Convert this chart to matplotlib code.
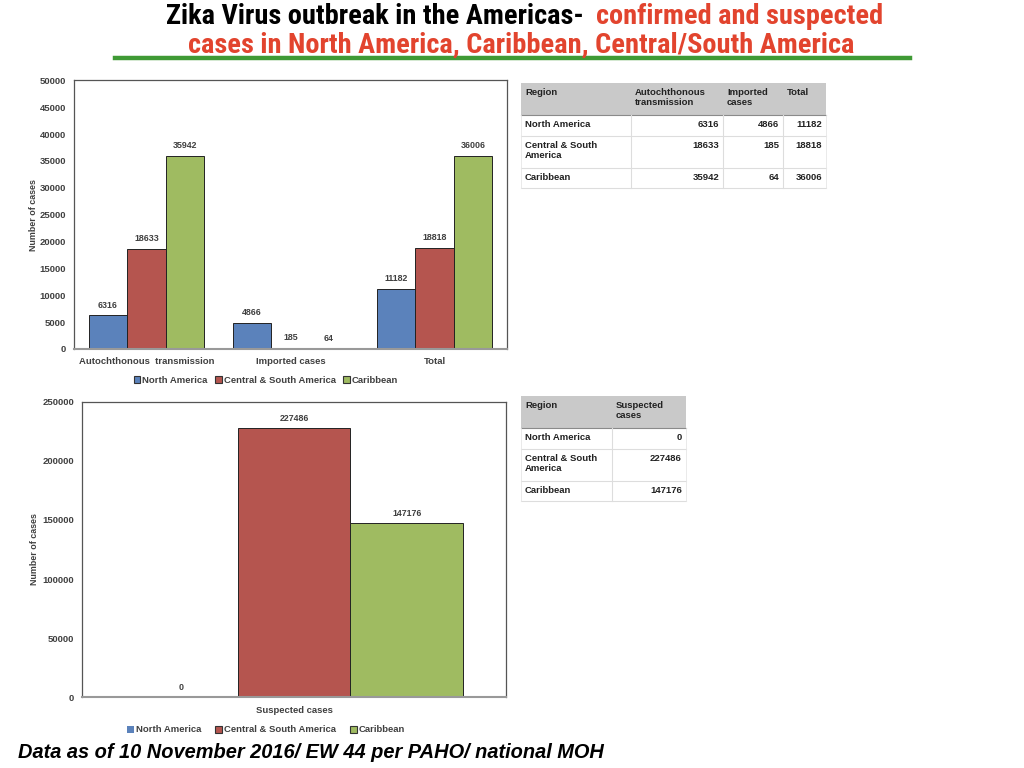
import matplotlib
matplotlib.use("Agg")
import matplotlib.pyplot as plt
from matplotlib import font_manager
from matplotlib.patches import Patch, Rectangle
from matplotlib.lines import Line2D
import numpy as np

# ---------------- data ----------------
regions = ["North America", "Central & South America", "Caribbean"]
confirmed_cats = ["Autochthonous  transmission", "Imported cases", "Total"]
autochthonous = [6316, 18633, 35942]
imported = [4866, 185, 64]
total = [11182, 18818, 36006]
suspected = [0, 227486, 147176]

table1_header = ["Region", "Autochthonous\ntransmission", "Imported\ncases", "Total"]
table1_regions = ["North America", "Central & South\nAmerica", "Caribbean"]
table2_header = ["Region", "Suspected\ncases"]

colors = ["#5b82bb", "#b5554f", "#9fbb61"]
txt_col = "#404040"


# pick font files directly (the narrow and regular Liberation faces share a family name)
def font_file(*keys):
    for key in keys:
        for f in font_manager.fontManager.ttflist:
            if f.fname.endswith(key):
                return f.fname
    return None


def fp(keys, size, fallback_weight="bold", fallback_style="normal"):
    path = font_file(*keys)
    if path:
        return font_manager.FontProperties(fname=path, size=size)
    return font_manager.FontProperties(family="DejaVu Sans", weight=fallback_weight,
                                       style=fallback_style, size=size)


W, H = 1024, 768
fig = plt.figure(figsize=(W / 100, H / 100), dpi=100)


def fx(px):
    return px / W


def fy(py):
    return 1 - py / H


# ---------------- title ----------------
cond_keys = ["LiberationSansNarrow-Bold.ttf", "RobotoCondensed-Bold.ttf",
             "DejaVuSansCondensed-Bold.ttf", "OpenSans_Condensed-Bold.ttf",
             "OpenSans-CondBold.ttf", "LiberationSans-Bold.ttf"]
title_fp = fp(cond_keys, 18)
t2 = fig.text(fx(521), fy(45), "cases in North America, Caribbean, Central/South America",
              ha="center", va="center", fontproperties=title_fp, color="#e2442e")
# fit the second title line to its width in the slide (about 667 px)
renderer = fig.canvas.get_renderer()
wpx = t2.get_window_extent(renderer).width
title_size = 18 * 667 / wpx
title_fp.set_size(title_size)
t2.set_fontproperties(title_fp)
fig.text(fx(590), fy(17), "Zika Virus outbreak in the Americas- ", ha="right", va="center",
         fontproperties=title_fp, color="black")
fig.text(fx(596), fy(17), "confirmed and suspected", ha="left", va="center",
         fontproperties=title_fp, color="#e2442e")
fig.add_artist(Line2D([fx(115), fx(910)], [fy(58), fy(58)], color="#3f9a35", lw=3.2))

fig.text(fx(18), fy(752), "Data as of 10 November 2016/ EW 44 per PAHO/ national MOH", ha="left",
         va="center", fontproperties=fp(["LiberationSans-BoldItalic.ttf"], 14.4, "bold", "italic"),
         color="black")

small_fp = fp(["LiberationSans-Bold.ttf"], 6.8)
tiny_fp = fp(["LiberationSans-Bold.ttf"], 6.4)


def style_axes(ax, ylabel_pad):
    for s in ["top", "right", "left"]:
        ax.spines[s].set_color("#555555")
        ax.spines[s].set_linewidth(0.9)
    ax.spines["bottom"].set_color("#999999")
    ax.spines["bottom"].set_linewidth(1.5)
    ax.tick_params(axis="both", length=0, labelcolor=txt_col, pad=6)
    for lab in ax.get_yticklabels() + ax.get_xticklabels():
        lab.set_fontproperties(small_fp)
    ax.set_ylabel("Number of cases", fontproperties=tiny_fp, color=txt_col, labelpad=ylabel_pad)


def label_bars(ax, bars, vals):
    for b, v in zip(bars, vals):
        ax.annotate(str(v), (b.get_x() + b.get_width() / 2, b.get_height()), xytext=(0, 4),
                    textcoords="offset points", ha="center", va="bottom",
                    fontproperties=tiny_fp, color=txt_col)


# ---------------- top chart ----------------
ax1 = fig.add_axes([fx(74.3), fy(349), fx(506.7 - 74.3), (349 - 80.3) / H])
w = 0.267
x = np.arange(len(confirmed_cats))
series = np.array([autochthonous, imported, total])  # rows: category, cols: region
for i, r in enumerate(regions):
    bars = ax1.bar(x + (i - 1) * w, series[:, i], w, color=colors[i], edgecolor="#222222",
                   linewidth=0.7, label=r)
    label_bars(ax1, bars, series[:, i])
ax1.set_xlim(-0.5, 2.5)
ax1.set_ylim(0, 50000)
ax1.set_yticks(np.arange(0, 50001, 5000))
ax1.set_xticks(x)
ax1.set_xticklabels(confirmed_cats)
style_axes(ax1, 1)

leg_handles = [Patch(facecolor=c, edgecolor="#333333", linewidth=0.8) for c in colors]
fig.legend(leg_handles, regions, loc="center", bbox_to_anchor=(fx(266), fy(380)), ncol=3,
           frameon=False, handlelength=0.7, handleheight=0.7, handletextpad=0.2,
           columnspacing=0.8, prop=small_fp, labelcolor=txt_col)

# ---------------- bottom chart ----------------
ax2 = fig.add_axes([fx(82.3), fy(697.3), fx(505.7 - 82.3), (697.3 - 401.7) / H])
w2 = 0.2665
for i, r in enumerate(regions):
    bars = ax2.bar([(i - 1) * w2], [suspected[i]], w2, color=colors[i], edgecolor="#222222",
                   linewidth=0.7, label=r)
    label_bars(ax2, bars, [suspected[i]])
ax2.set_xlim(-0.5, 0.5)
ax2.set_ylim(0, 250000)
ax2.set_yticks(np.arange(0, 250001, 50000))
ax2.set_xticks([0])
ax2.set_xticklabels(["Suspected cases"])
style_axes(ax2, 2)
leg_handles2 = [Patch(facecolor=colors[0], edgecolor="none")] + leg_handles[1:]
fig.legend(leg_handles2, regions, loc="center", bbox_to_anchor=(fx(266), fy(730)), ncol=3,
           frameon=False, handlelength=0.7, handleheight=0.7, handletextpad=0.2,
           columnspacing=1.5, prop=small_fp, labelcolor=txt_col)


# ---------------- tables ----------------
cell_fp = fp(["LiberationSans-Bold.ttf"], 6.8)


def draw_table(col_edges, row_edges, header, rows, numeric_cols):
    x0, x1 = col_edges[0], col_edges[-1]
    fig.add_artist(Rectangle((fx(x0), fy(row_edges[1])), fx(x1 - x0),
                             (row_edges[1] - row_edges[0]) / H, facecolor="#c9c9c9",
                             edgecolor="none"))
    for j, yy in enumerate(row_edges[1:]):
        c = "#8a8a8a" if j == 0 else "#dddddd"
        fig.add_artist(Line2D([fx(x0), fx(x1)], [fy(yy), fy(yy)], color=c, lw=0.8))
    for xx in col_edges[1:-1]:
        fig.add_artist(Line2D([fx(xx), fx(xx)], [fy(row_edges[1]), fy(row_edges[-1])],
                              color="#dddddd", lw=0.8))
    for xx in [x0, x1]:
        fig.add_artist(Line2D([fx(xx), fx(xx)], [fy(row_edges[1]), fy(row_edges[-1])],
                              color="#e6e6e6", lw=0.6))
    for j, h in enumerate(header):
        fig.text(fx(col_edges[j] + 4), fy(row_edges[0] + 5), h, ha="left", va="top",
                 fontproperties=cell_fp, color="#222222", linespacing=1.15)
    for i, row in enumerate(rows):
        ytop = row_edges[i + 1] + 5
        for j, val in enumerate(row):
            if j in numeric_cols:
                fig.text(fx(col_edges[j + 1] - 4), fy(ytop), str(val), ha="right", va="top",
                         fontproperties=cell_fp, color="#222222")
            else:
                fig.text(fx(col_edges[j] + 4), fy(ytop), val, ha="left", va="top",
                         fontproperties=cell_fp, color="#222222", linespacing=1.15)


rows1 = [[table1_regions[i], autochthonous[i], imported[i], total[i]] for i in range(3)]
draw_table([521, 631, 723, 783, 826], [83, 115, 136, 168, 188], table1_header, rows1, [1, 2, 3])
rows2 = [[table1_regions[i], suspected[i]] for i in range(3)]
draw_table([521, 612, 686], [396, 428, 449, 481, 501], table2_header, rows2, [1])

fig.savefig("out.png", dpi=100)
